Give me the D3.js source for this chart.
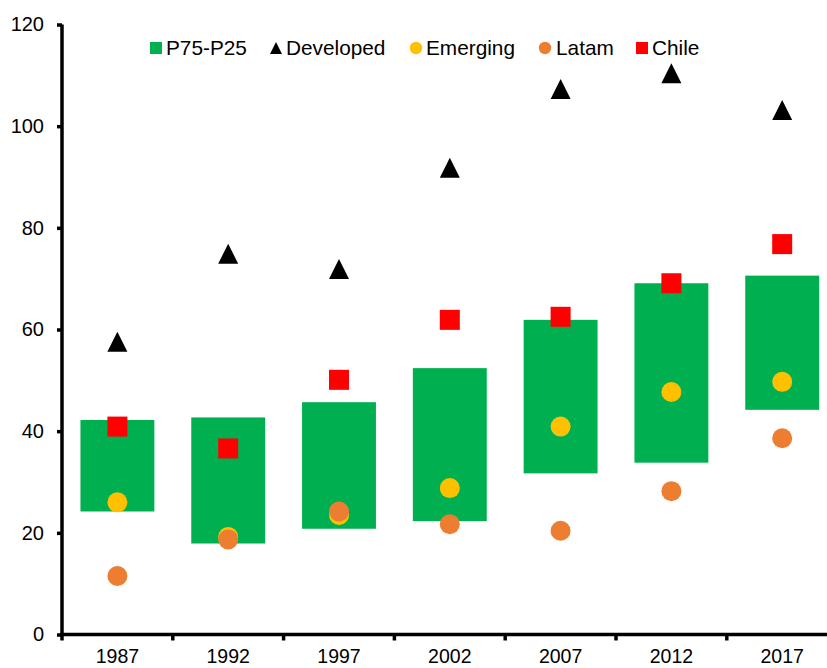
<!DOCTYPE html>
<html>
<head>
<meta charset="utf-8">
<script src="https://cdn.jsdelivr.net/npm/d3@7"></script>
<style>
  html, body { margin: 0; padding: 0; background: #fff; }
  svg { display: block; font-family: "Liberation Sans", Arial, sans-serif; }
</style>
</head>
<body>
<svg id="chart" width="827" height="668"></svg>
<script>
// Years on the category axis
const years = ["1987", "1992", "1997", "2002", "2007", "2012", "2017"];
// Interquartile band (P75 top, P25 bottom)
const p75 = [42.2, 42.7, 45.7, 52.4, 61.9, 69.1, 70.6];
const p25 = [24.2, 17.9, 20.8, 22.3, 31.7, 33.8, 44.2];
// Group averages
const developed = [57.6, 74.9, 71.9, 91.8, 107.3, 110.4, 103.2];
const emerging = [26.0, 19.2, 23.5, 28.8, 40.9, 47.7, 49.7];
const latam = [11.5, 18.7, 24.2, 21.7, 20.4, 28.2, 38.6];
const chile = [40.9, 36.6, 50.1, 61.9, 62.5, 69.1, 76.8];
const yTicks = [0, 20, 40, 60, 80, 100, 120];

const svg = d3.select("#chart");
const plotLeft = 62, plotRight = 837.6, plotTop = 24.5, plotBottom = 634.5;

const x = d3.scaleBand().domain(years).range([plotLeft, plotRight]).paddingInner(0.333).paddingOuter(0.1665);
const y = d3.scaleLinear().domain([0, 120]).range([plotBottom, plotTop]);

const colors = { band: "#00B050", dev: "#000000", em: "#FFC000", lat: "#ED7D31", chi: "#FF0000" };

// Interquartile bars
svg.append("g").selectAll("rect").data(years).join("rect")
  .attr("x", d => x(d))
  .attr("width", x.bandwidth())
  .attr("y", (d, i) => y(p75[i]))
  .attr("height", (d, i) => y(p25[i]) - y(p75[i]))
  .attr("fill", colors.band);

const cx = d => x(d) + x.bandwidth() / 2;

// Developed: triangles
svg.append("g").selectAll("path").data(years).join("path")
  .attr("d", "M0,-10L10,10L-10,10Z")
  .attr("transform", (d, i) => `translate(${cx(d)},${y(developed[i])})`)
  .attr("fill", colors.dev);

// Emerging: yellow circles
svg.append("g").selectAll("circle").data(years).join("circle")
  .attr("cx", cx).attr("cy", (d, i) => y(emerging[i])).attr("r", 10)
  .attr("fill", colors.em);

// Latam: orange circles
svg.append("g").selectAll("circle").data(years).join("circle")
  .attr("cx", cx).attr("cy", (d, i) => y(latam[i])).attr("r", 10)
  .attr("fill", colors.lat);

// Chile: red squares
svg.append("g").selectAll("rect").data(years).join("rect")
  .attr("x", d => cx(d) - 10).attr("y", (d, i) => y(chile[i]) - 10)
  .attr("width", 20).attr("height", 20)
  .attr("fill", colors.chi);

// Y axis
const yAxis = svg.append("g").attr("transform", `translate(${plotLeft},0)`)
  .call(d3.axisLeft(y).tickValues(yTicks).tickSize(5).tickPadding(13));
yAxis.select(".domain").attr("stroke-width", 3.5).attr("d", `M0,${plotTop}V${plotBottom}`);
yAxis.selectAll(".tick line").attr("stroke-width", 3.5);
yAxis.selectAll(".tick text").attr("font-size", 20).attr("fill", "#000")
  .attr("font-family", "Liberation Sans, Arial, sans-serif");

// X axis with ticks between categories
const xAxisG = svg.append("g").attr("transform", `translate(0,${plotBottom})`);
xAxisG.append("line").attr("x1", plotLeft - 2).attr("x2", 827).attr("y1", 0).attr("y2", 0)
  .attr("stroke", "#000").attr("stroke-width", 3.5);
const step = x.step();
const boundaries = years.map((d, i) => plotLeft + i * step);
xAxisG.selectAll("line.tk").data(boundaries).join("line").attr("class", "tk")
  .attr("x1", d => d).attr("x2", d => d).attr("y1", 0).attr("y2", 6)
  .attr("stroke", "#000").attr("stroke-width", 3.5);
xAxisG.selectAll("text").data(years).join("text")
  .attr("x", cx).attr("y", 28.5)
  .attr("text-anchor", "middle").attr("font-size", 19.5).attr("fill", "#000")
  .text(d => d);

// Legend
const legend = svg.append("g").attr("font-size", 20.8);
const ly = 48;
const items = [
  { label: "P75-P25", x: 150, shape: "sq", color: colors.band, tx: 166 },
  { label: "Developed", x: 270, shape: "tri", color: colors.dev, tx: 286 },
  { label: "Emerging", x: 410, shape: "circ", color: colors.em, tx: 426 },
  { label: "Latam", x: 539, shape: "circ", color: colors.lat, tx: 556 },
  { label: "Chile", x: 636, shape: "sq", color: colors.chi, tx: 652 }
];
items.forEach(it => {
  if (it.shape === "sq") {
    legend.append("rect").attr("x", it.x).attr("y", ly - 6).attr("width", 12).attr("height", 12).attr("fill", it.color);
  } else if (it.shape === "tri") {
    legend.append("path").attr("d", `M${it.x + 6},${ly - 6}L${it.x + 12},${ly + 6}L${it.x},${ly + 6}Z`).attr("fill", it.color);
  } else {
    legend.append("circle").attr("cx", it.x + 6).attr("cy", ly).attr("r", 6.2).attr("fill", it.color);
  }
  legend.append("text").attr("x", it.tx).attr("y", ly + 7.3).attr("fill", "#000").text(it.label);
});
</script>
</body>
</html>
